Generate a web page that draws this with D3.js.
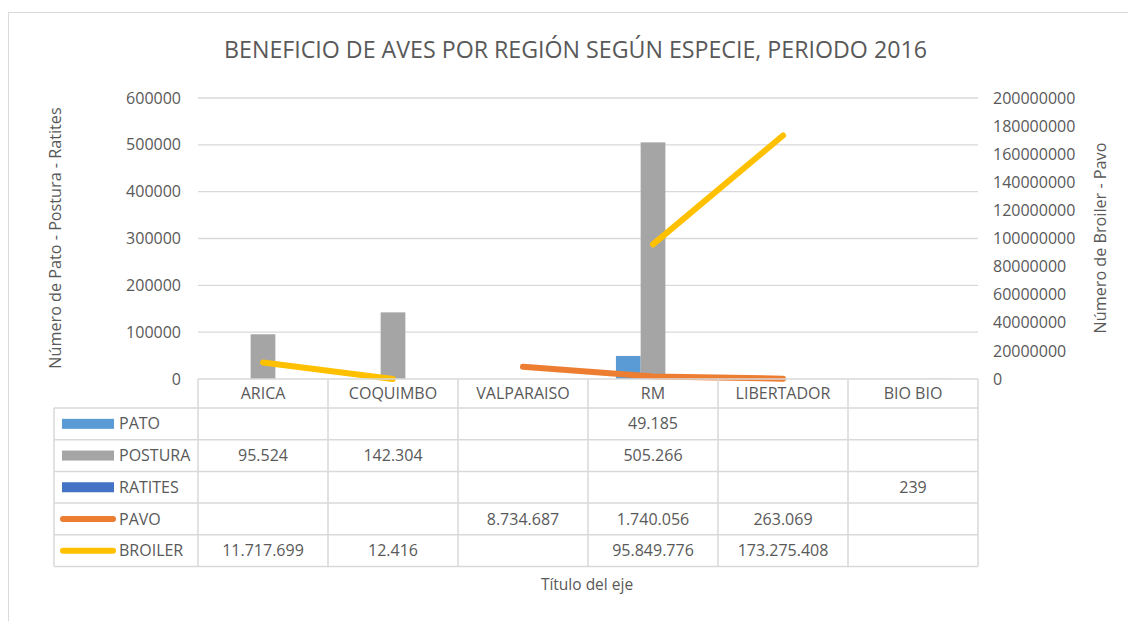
<!DOCTYPE html>
<html><head><meta charset="utf-8">
<script src="https://cdn.jsdelivr.net/npm/d3@7"></script>
<style>
html,body{margin:0;padding:0;background:#fff;}
svg{display:block;font-family:"Open Sans",sans-serif;}
</style></head>
<body>
<svg id="chart" width="1128" height="621"></svg>
<script>
const title = "BENEFICIO DE AVES POR REGIÓN SEGÚN ESPECIE, PERIODO 2016";
const categories = ["ARICA","COQUIMBO","VALPARAISO","RM","LIBERTADOR","BIO BIO"];
const pato    = [null, null, null, 49185, null, null];
const postura = [95524, 142304, null, 505266, null, null];
const ratites = [null, null, null, null, null, 239];
const pavo    = [null, null, 8734687, 1740056, 263069, null];
const broiler = [11717699, 12416, null, 95849776, 173275408, null];
const leftTicks  = [0,100000,200000,300000,400000,500000,600000];
const rightTicks = [0,20000000,40000000,60000000,80000000,100000000,120000000,140000000,160000000,180000000,200000000];
const leftTitle = "Número de Pato - Postura - Ratites";
const rightTitle = "Número de Broiler - Pavo";
const xTitle = "Título del eje";

const barSeries = [
  {name:"PATO", values:pato, color:"#5B9BD5"},
  {name:"POSTURA", values:postura, color:"#A5A5A5"},
  {name:"RATITES", values:ratites, color:"#4472C4"}
];
const lineSeries = [
  {name:"PAVO", values:pavo, color:"#ED7D31"},
  {name:"BROILER", values:broiler, color:"#FFC000"}
];
const tableRows = [barSeries[0], barSeries[1], barSeries[2], lineSeries[0], lineSeries[1]];

const svg = d3.select("#chart");
const textColor = "#595959", gridColor = "#D9D9D9";
const plotL = 198, plotR = 978, plotT = 98, plotB = 379;
const legL = 54, headerH = 29, rowH = 31.7;

// outer frame
svg.append("rect").attr("x",8.5).attr("y",12.5).attr("width",1130).attr("height",620)
  .attr("fill","#fff").attr("stroke","#D9D9D9").attr("stroke-width",1);

const x0 = d3.scaleBand().domain(categories).range([plotL, plotR]).padding(0);
const x1 = d3.scaleBand().domain(barSeries.map(s=>s.name)).range([0, x0.bandwidth()])
  .paddingInner(0).paddingOuter(1.13);
const yL = d3.scaleLinear().domain([0,600000]).range([plotB, plotT]);
const yR = d3.scaleLinear().domain([0,200000000]).range([plotB, plotT]);

// gridlines
svg.append("g").selectAll("line").data(leftTicks.filter(d=>d>0)).join("line")
  .attr("x1",plotL).attr("x2",plotR).attr("y1",d=>yL(d)).attr("y2",d=>yL(d))
  .attr("stroke",gridColor).attr("stroke-width",1.3);

// left axis
const axL = d3.axisLeft(yL).tickValues(leftTicks).tickFormat(d3.format("d")).tickSize(0).tickPadding(17);
const gL = svg.append("g").attr("transform",`translate(${plotL},0)`).call(axL);
gL.select(".domain").remove();
gL.selectAll("text").attr("fill",textColor).style("font-size","16px").style("font-family","Open Sans");

// right axis
const axR = d3.axisRight(yR).tickValues(rightTicks).tickFormat(d3.format("d")).tickSize(0).tickPadding(15);
const gR = svg.append("g").attr("transform",`translate(${plotR},0)`).call(axR);
gR.select(".domain").remove();
gR.selectAll("text").attr("fill",textColor).style("font-size","16px").style("font-family","Open Sans");

// bars
barSeries.forEach(s=>{
  svg.append("g").selectAll("rect")
    .data(categories.map((c,i)=>({c, v:s.values[i]})).filter(d=>d.v!=null))
    .join("rect")
    .attr("x",d=>x0(d.c)+x1(s.name)).attr("width",x1.bandwidth())
    .attr("y",d=>yL(d.v)).attr("height",d=>yL(0)-yL(d.v))
    .attr("fill",s.color);
});

// lines
lineSeries.forEach(s=>{
  const line = d3.line().defined(d=>d.v!=null)
    .x(d=>x0(d.c)+x0.bandwidth()/2).y(d=>yR(d.v));
  svg.append("path").datum(categories.map((c,i)=>({c, v:s.values[i]})))
    .attr("d",line).attr("fill","none").attr("stroke",s.color)
    .attr("stroke-width",6).attr("stroke-linecap","round").attr("stroke-linejoin","round");
});

// data table
const fmt = d3.formatLocale({decimal:",", thousands:".", grouping:[3], currency:["",""]}).format(",d");
const tb = svg.append("g");
const tableBottom = plotB + headerH + rowH*tableRows.length;
const hl = (x1_,x2_,y)=>tb.append("line").attr("x1",x1_).attr("x2",x2_).attr("y1",y).attr("y2",y)
  .attr("stroke",gridColor).attr("stroke-width",1.5);
const vl = (x,y1_,y2_)=>tb.append("line").attr("x1",x).attr("x2",x).attr("y1",y1_).attr("y2",y2_)
  .attr("stroke",gridColor).attr("stroke-width",1.5);
hl(plotL, plotR, plotB);
for(let r=0;r<=tableRows.length;r++) hl(legL, plotR, plotB+headerH+r*rowH);
vl(legL, plotB+headerH, tableBottom);
categories.forEach(c=>vl(x0(c), plotB, tableBottom));
vl(plotR, plotB, tableBottom);

tb.selectAll("text.hdr").data(categories).join("text").attr("class","hdr")
  .attr("x",d=>x0(d)+x0.bandwidth()/2).attr("y",plotB+headerH/2)
  .attr("dy","0.35em").attr("text-anchor","middle").attr("fill",textColor)
  .style("font-size","16px").text(d=>d);

tableRows.forEach((s,r)=>{
  const cy = plotB+headerH+r*rowH+rowH/2;
  const isLine = lineSeries.includes(s);
  if(isLine){
    tb.append("line").attr("x1",63).attr("x2",113).attr("y1",cy).attr("y2",cy)
      .attr("stroke",s.color).attr("stroke-width",6).attr("stroke-linecap","round");
  } else {
    tb.append("rect").attr("x",62).attr("y",cy-5).attr("width",52).attr("height",10).attr("fill",s.color);
  }
  tb.append("text").attr("x",119).attr("y",cy).attr("dy","0.35em").attr("fill",textColor)
    .style("font-size","16px").text(s.name);
  categories.forEach((c,i)=>{
    if(s.values[i]==null) return;
    tb.append("text").attr("x",x0(c)+x0.bandwidth()/2).attr("y",cy).attr("dy","0.35em")
      .attr("text-anchor","middle").attr("fill",textColor).style("font-size","16px")
      .text(fmt(s.values[i]));
  });
});

// axis titles
svg.append("text").attr("transform",`translate(61,238) rotate(-90)`).attr("text-anchor","middle")
  .attr("fill",textColor).style("font-size","16.2px").text(leftTitle);
svg.append("text").attr("transform",`translate(1106,238) rotate(-90)`).attr("text-anchor","middle")
  .attr("fill",textColor).style("font-size","16.2px").text(rightTitle);
svg.append("text").attr("x",587).attr("y",590).attr("text-anchor","middle")
  .attr("fill",textColor).style("font-size","15.5px").text(xTitle);

// title
const t = svg.append("text").attr("x",575.5).attr("y",58).attr("text-anchor","middle")
  .attr("fill",textColor).style("font-size","22px").text(title);
const len = t.node().getComputedTextLength();
t.style("font-size", (22*703/len).toFixed(2)+"px");
</script>
</body></html>
